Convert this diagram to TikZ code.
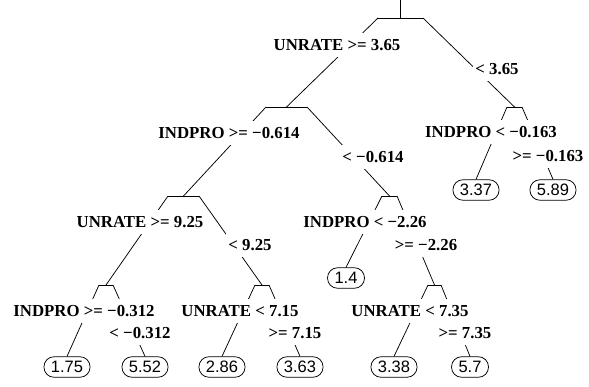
\documentclass[tikz,border=0pt]{standalone}
\usepackage{fontspec}
\setmainfont{Liberation Serif}
\newfontfamily\leaffont{Liberation Sans}
\begin{document}
\begin{tikzpicture}[x=1pt,y=-1pt,
  edge/.style={line width=0.75pt},
  split/.style={fill=white,inner xsep=2pt,inner ysep=6.5pt,anchor=base,
    font=\fontsize{16.8}{18}\selectfont\bfseries},
  leaf/.style={draw,fill=white,line width=0.75pt,rounded corners=10pt,
    minimum height=20.5pt,inner xsep=7pt,inner ysep=0pt,
    font=\leaffont\fontsize{16.5}{18}\selectfont}]
\useasboundingbox (0,0) rectangle (589,386);

% split points: left end, right end and centre of each roof
\coordinate (r0t) at (400.5,0);
\coordinate (r0) at (400.5,18); \coordinate (r0l) at (378,18); \coordinate (r0r) at (423,18);
\coordinate (aC) at (286.5,107); \coordinate (aL) at (266,107); \coordinate (aR) at (307,107);
\coordinate (bC) at (514.5,107); \coordinate (bL) at (507,107); \coordinate (bR) at (522,107);
\coordinate (cC) at (183.5,196); \coordinate (cL) at (168,196); \coordinate (cR) at (199,196);
\coordinate (dC) at (389.5,196); \coordinate (dL) at (382,196); \coordinate (dR) at (397,196);
\coordinate (eC) at (106,285);   \coordinate (eL) at (99,285);   \coordinate (eR) at (113,285);
\coordinate (fC) at (262,285);   \coordinate (fL) at (255,285);  \coordinate (fR) at (269,285);
\coordinate (gC) at (434.5,285); \coordinate (gL) at (428,285);  \coordinate (gR) at (441,285);

% leaves
\node[leaf] (l1) at (67,367)  {1.75};
\node[leaf] (l2) at (145,367) {5.52};
\node[leaf] (l3) at (222,367) {2.86};
\node[leaf] (l4) at (300,367) {3.63};
\node[leaf] (l5) at (346,278) {1.4};
\node[leaf] (l6) at (394,367) {3.38};
\node[leaf] (l7) at (470,367) {5.7};
\node[leaf] (l8) at (476,190) {3.37};
\node[leaf] (l9) at (553,190) {5.89};

% roofs
\draw[edge] (r0t) -- (r0);
\draw[edge] (r0l) -- (r0r);
\draw[edge] (aL) -- (aR);
\draw[edge] (bL) -- (bR);
\draw[edge] (cL) -- (cR);
\draw[edge] (dL) -- (dR);
\draw[edge] (eL) -- (eR);
\draw[edge] (fL) -- (fR);
\draw[edge] (gL) -- (gR);

% branches
\draw[edge] (r0l) -- (aC);
\draw[edge] (r0r) -- (bC);
\draw[edge] (aL) -- (cC);
\draw[edge] (aR) -- (dC);
\draw[edge] (bL) -- (l8.north);
\draw[edge] (bR) -- (l9.north);
\draw[edge] (cL) -- (eC);
\draw[edge] (cR) -- (fC);
\draw[edge] (dL) -- (l5.north);
\draw[edge] (dR) -- (gC);
\draw[edge] (eL) -- (l1.north);
\draw[edge] (eR) -- (l2.north);
\draw[edge] (fL) -- (l3.north);
\draw[edge] (fR) -- (l4.north);
\draw[edge] (gL) -- (l6.north);
\draw[edge] (gR) -- (l7.north);

% split labels
\node[split] (s0l) at (337,50.5)  {UNRATE >= 3.65};
\node[split] (s0r) at (497,74.5)  {< 3.65};
\node[split] (sal) at (229,138.5) {INDPRO >= −0.614};
\node[split] (sar) at (373,162.5) {< −0.614};
\node[split] (sbl) at (491,137.5) {INDPRO < −0.163};
\node[split] (sbr) at (548,161.5) {>= −0.163};
\node[split] (scl) at (140,227.5) {UNRATE >= 9.25};
\node[split] (scr) at (250,250.5) {< 9.25};
\node[split] (sdl) at (365,227.5) {INDPRO < −2.26};
\node[split] (sdr) at (426,250.5) {>= −2.26};
\node[split] (sel) at (84,316.5)  {INDPRO >= −0.312};
\node[split] (ser) at (140,338.5) {< −0.312};
\node[split] (sfl) at (240,316.5) {UNRATE < 7.15};
\node[split] (sfr) at (295,338.5) {>= 7.15};
\node[split] (sgl) at (410,316.5) {UNRATE < 7.35};
\node[split] (sgr) at (465,338.5) {>= 7.35};
\end{tikzpicture}
\end{document}
